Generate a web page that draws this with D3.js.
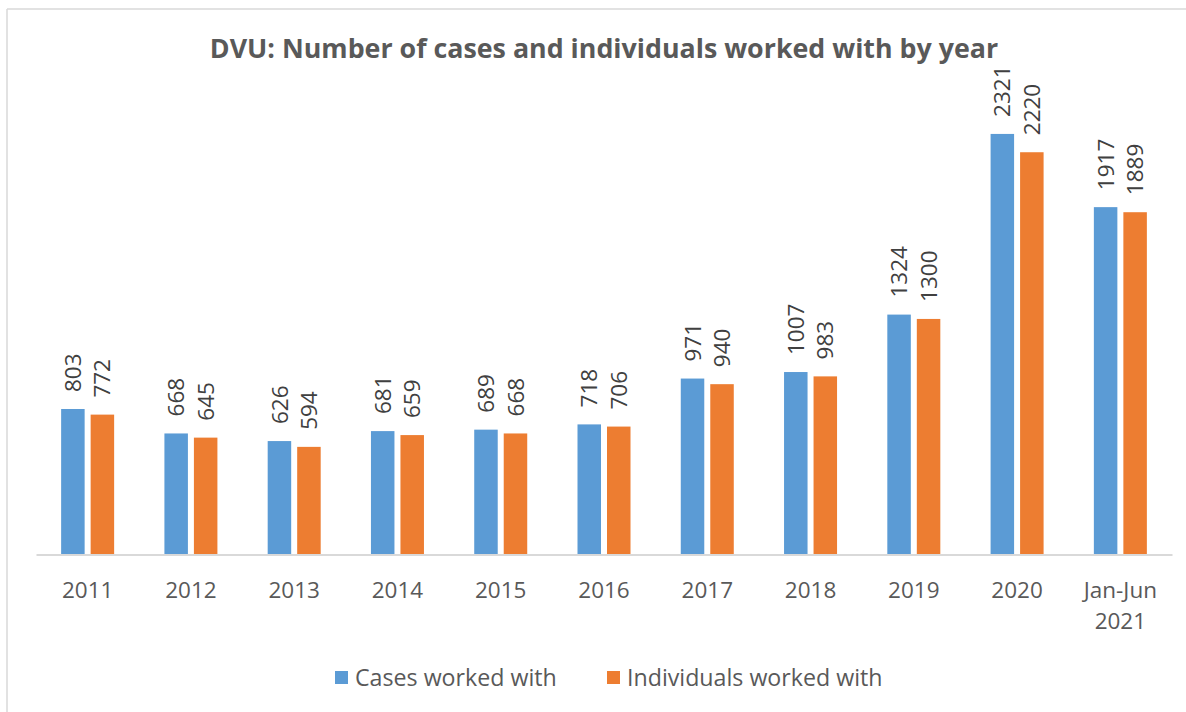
<!DOCTYPE html>
<html><head><meta charset="utf-8">
<script src="https://cdn.jsdelivr.net/npm/d3@7"></script>
<style>body{margin:0;background:#fff;} svg{display:block;}</style>
</head><body>
<svg id="chart" width="1186" height="712"></svg>
<script>
const categories = ["2011","2012","2013","2014","2015","2016","2017","2018","2019","2020","Jan-Jun 2021"];
const cases = [803,668,626,681,689,718,971,1007,1324,2321,1917];
const individuals = [772,645,594,659,668,706,940,983,1300,2220,1889];
const seriesNames = ["Cases worked with","Individuals worked with"];
const colors = ["#5B9BD5","#ED7D31"];
const title = "DVU: Number of cases and individuals worked with by year";

const svg = d3.select("#chart");
const font = "'Open Sans', 'Noto Sans', sans-serif";

// frame
svg.append("line").attr("x1",7).attr("x2",1186).attr("y1",9).attr("y2",9).attr("stroke","#d9d9d9").attr("stroke-width",1.5);
svg.append("line").attr("x1",7).attr("x2",7).attr("y1",9).attr("y2",712).attr("stroke","#d9d9d9").attr("stroke-width",1.5);

const x0 = d3.scaleBand().domain(categories).range([36,1172]).paddingInner(0).paddingOuter(0);
const y = d3.scaleLinear().domain([0,2500]).range([554.5,101.5]);
const bw = 23.5, gap = 6;

svg.append("text").attr("x",604).attr("y",58).attr("text-anchor","middle")
  .attr("font-family",font).attr("font-weight","bold").attr("font-size",26.8).attr("fill","#595959").text(title);

const series = [cases, individuals];
series.forEach((vals,si)=>{
  const g = svg.append("g");
  categories.forEach((c,i)=>{
    const cx = x0(c) + x0.bandwidth()/2;
    const bx = si===0 ? cx - gap/2 - bw : cx + gap/2;
    g.append("rect").attr("x",bx).attr("y",y(vals[i])).attr("width",bw).attr("height",y(0)-y(vals[i])).attr("fill",colors[si]);
    const tx = bx + bw/2, ty = y(vals[i]) - 17;
    g.append("text").attr("transform",`translate(${tx},${ty}) rotate(-90)`)
      .attr("dy","0.36em").attr("font-family",font).attr("font-size",22.5).attr("fill","#404040").text(vals[i]);
  });
});

// axis
const axis = d3.axisBottom(x0).tickSize(0).tickFormat(()=>"" );
const ag = svg.append("g").attr("transform",`translate(0,${y(0)})`).call(axis);
ag.select(".domain").attr("stroke","#d9d9d9").attr("stroke-width",2);
ag.selectAll(".tick").each(function(d){
  const t = d3.select(this).append("text").attr("fill","#595959").attr("font-family",font).attr("font-size",22.5).attr("text-anchor","middle");
  const parts = d.split(" ");
  parts.forEach((p,k)=>{ t.append("tspan").attr("x",0).attr("y",43 + k*31).text(p); });
});

// legend
const legX = [335, 607];
seriesNames.forEach((n,i)=>{
  svg.append("rect").attr("x",legX[i]).attr("y",671).attr("width",13).attr("height",13).attr("fill",colors[i]);
  svg.append("text").attr("x",legX[i]+20).attr("y",686).attr("font-family",font).attr("font-size",23.2).attr("fill","#595959").text(n);
});
</script>
</body></html>
